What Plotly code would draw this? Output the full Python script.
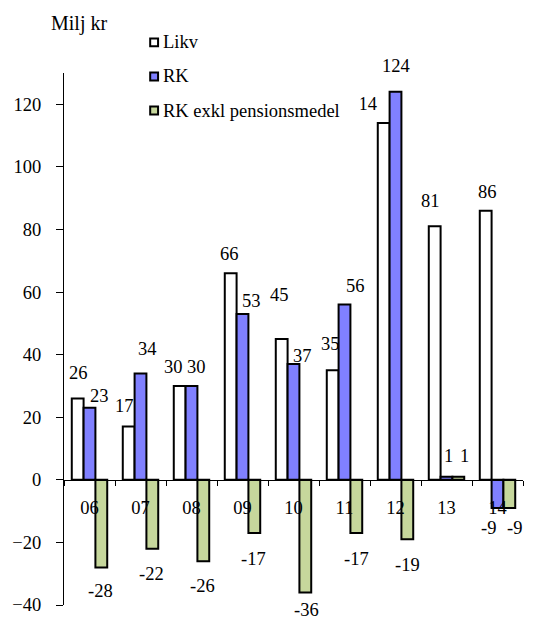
import plotly.graph_objects as go

# Years (two-digit) on the category axis
years = ["06", "07", "08", "09", "10", "11", "12", "13", "14"]

# Series values, Milj kr
likv = [26, 17, 30, 66, 45, 35, 114, 81, 86]
rk = [23, 34, 30, 53, 37, 56, 124, 1, -9]
rk_exkl = [-28, -22, -26, -17, -36, -17, -19, 1, -9]

series_names = ["Likv", "RK", "RK exkl pensionsmedel"]
fill_colors = ["#ffffff", "#8080ff", "#c6d79c"]

# Per-label nudges in pixels (dx, dy measured to the label centre from the bar end)
label_dx = [
    [1, -4, -6, -1, -2, -2, -20, -4, 2],
    [10, 7, 5, 9, 9, 11, 0, 2, -9],
    [-1, -1, -1, -1, 1, 0, 0, 6, 5],
]
label_dy = [
    [25, 21, 19, 19, 44, 26, 19, 25, 19],
    [12, 24, 19, 13, 8, 19, 26, 21, -20],
    [-24, -25, -25, -26, -18, -26, -26, 21, -20],
]

FONT = "Liberation Serif"
FS = 18.5
Y_MIN, Y_MAX = -40, 130
BARGAP = 0.305

W, H = 541, 627
M_L, M_R, M_T, M_B = 57, 18, 73, 16
plot_w = W - M_L - M_R
plot_h = H - M_T - M_B


def px_x(px):
    return (px - M_L) / plot_w


def px_y(py):
    return (H - M_B - py) / plot_h


xs = list(range(len(years)))
all_series = [likv, rk, rk_exkl]
bw = (1 - BARGAP) / 3

fig = go.Figure()
for name, vals, col in zip(series_names, all_series, fill_colors):
    fig.add_trace(go.Bar(
        x=xs, y=vals, name=name,
        marker=dict(color=col, line=dict(color="black", width=2)),
        showlegend=False,
    ))

# Value labels at the bar ends
annotations = []
for k, vals in enumerate(all_series):
    for i, v in enumerate(vals):
        annotations.append(dict(
            x=i + (k - 1) * bw, y=v, xref="x", yref="y",
            text=str(v), showarrow=False,
            xanchor="center", yanchor="middle",
            xshift=label_dx[k][i], yshift=label_dy[k][i],
            font=dict(family=FONT, size=FS, color="black"),
        ))

# Legend: colour keys and names on a white box
shapes = []
key_cx, key_half, text_x, box_right = 148.5, 4, 156.5, 353
for j, (name, col) in enumerate(zip(series_names, fill_colors)):
    cy = 42 + j * 34.5
    shapes.append(dict(
        type="rect", xref="paper", yref="paper", layer="above",
        x0=px_x(key_cx - key_half), x1=px_x(key_cx + key_half),
        y0=px_y(cy + key_half), y1=px_y(cy - key_half),
        fillcolor=col, line=dict(color="black", width=2),
    ))
    annotations.append(dict(
        x=px_x(text_x), y=px_y(cy), xref="paper", yref="paper",
        text=name, showarrow=False, xanchor="left", yanchor="middle",
        align="left", valign="middle",
        width=box_right - text_x, height=34, borderpad=0,
        bgcolor="white",
        font=dict(family=FONT, size=FS, color="black"),
    ))

annotations.append(dict(
    x=px_x(41.5), y=px_y(23), xref="paper", yref="paper",
    text="Milj kr", showarrow=False, xanchor="left", yanchor="middle",
    font=dict(family=FONT, size=20, color="black"),
))

fig.update_layout(
    width=W, height=H,
    margin=dict(l=M_L, r=M_R, t=M_T, b=M_B),
    paper_bgcolor="white", plot_bgcolor="white",
    barmode="group", bargap=BARGAP, bargroupgap=0,
    font=dict(family=FONT, size=FS, color="black"),
    showlegend=False,
    xaxis=dict(
        range=[-0.5, len(years) - 0.5],
        tickmode="array", tickvals=xs, ticktext=years, ticks="",
        minor=dict(tickmode="array", tickvals=[i - 0.5 for i in range(len(years) + 1)],
                   ticks="outside", ticklen=5, tickcolor="black", showgrid=False),
        anchor="free", position=(0 - Y_MIN) / (Y_MAX - Y_MIN),
        showline=True, linecolor="black", linewidth=1,
        showgrid=False, zeroline=False,
        tickfont=dict(family=FONT, size=FS, color="black"),
        ticklabelstandoff=11,
    ),
    yaxis=dict(
        range=[Y_MIN, Y_MAX], tickvals=list(range(-40, 121, 20)),
        showline=True, linecolor="black", linewidth=1,
        ticks="outside", ticklen=7, tickcolor="black",
        showgrid=False, zeroline=False,
        tickfont=dict(family=FONT, size=FS, color="black"),
        ticklabelstandoff=11,
    ),
    shapes=shapes,
    annotations=annotations,
)

fig.write_html("out.html")
